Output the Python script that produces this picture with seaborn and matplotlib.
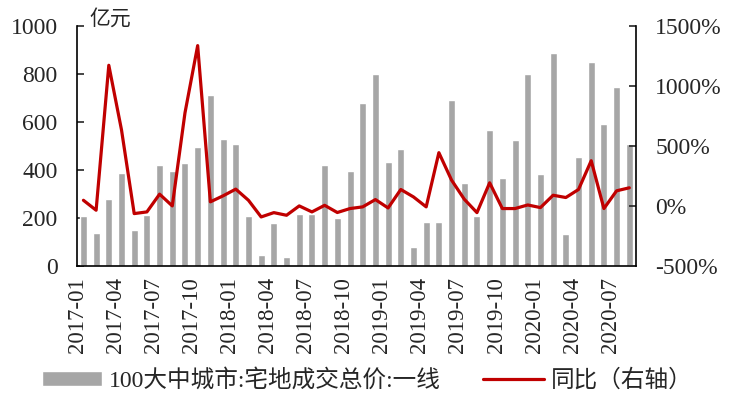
import numpy as np
import pandas as pd
import matplotlib
matplotlib.use("Agg")
import matplotlib.pyplot as plt
import seaborn as sns

# monthly data, 2017-01 .. 2020-08
months = pd.period_range("2017-01", "2020-08", freq="M").strftime("%Y-%m").tolist()

land_total = [210, 137, 280, 386, 151, 213, 422, 397, 427, 497, 712, 529,
              508, 210, 45, 178, 38, 215, 218, 420, 200, 397, 678, 802,
              432, 488, 77, 185, 185, 690, 346, 206, 568, 367, 523, 802,
              381, 886, 132, 456, 851, 593, 746, 509]

yoy = [47, -36, 1173, 634, -64, -50, 98, 0, 776, 1337, 34, 84,
       140, 47, -92, -56, -78, 0, -50, 5, -55, -22, -8, 53,
       -17, 137, 75, -8, 444, 215, 56, -56, 193, -22, -22, 8,
       -14, 89, 70, 137, 377, -22, 126, 151]

tick_labels = months[::3]

bar_name = "100大中城市:宅地成交总价:一线"
line_name = "同比（右轴）"

df = pd.DataFrame({"month": months, "total": land_total, "yoy": yoy})
df["idx"] = np.arange(len(df))

sns.set_style("white")
plt.rcParams['font.family'] = ['Liberation Serif', 'Noto Sans CJK SC', 'DejaVu Sans']

fig, ax = plt.subplots(figsize=(7.34, 4.01), dpi=100)
fig.subplots_adjust(left=0.105, right=0.866, top=0.935, bottom=0.337)

sns.barplot(data=df, x="month", y="total", color="#A6A6A6", saturation=1,
            width=0.55, ax=ax, label=bar_name)
if ax.get_legend() is not None:
    ax.get_legend().remove()
ax.set_xlim(-0.5, len(df) - 0.5)
ax.set_ylim(0, 1000)
ax.set_yticks(range(0, 1001, 200))
ax.set_xticks(np.arange(0, len(df), 3) - 0.5)
ax.set_xticklabels(tick_labels, rotation=90, fontsize=16.5)
ax.tick_params(axis="y", direction="in", labelsize=17, length=5, width=1.2, pad=14)
ax.tick_params(axis="x", direction="out", length=5, width=1.2, pad=3)
ax.set_xlabel("")
ax.set_ylabel("")
ax.text(0.023, 1.03, "亿元", transform=ax.transAxes, fontsize=15,
        va="center", ha="left", family=['Noto Sans CJK SC'])

ax2 = ax.twinx()
sns.lineplot(data=df, x="idx", y="yoy", color="#C00000", lw=2.3, ax=ax2,
             label=line_name, legend=False)
ax2.set_ylim(-500, 1500)
ax2.set_yticks(range(-500, 1501, 500))
ax2.set_yticklabels([f"{v}%" for v in range(-500, 1501, 500)])
ax2.tick_params(axis="y", direction="in", labelsize=17, length=5, width=1.2, pad=14)
ax2.set_ylabel("")
ax2.set_xlim(-0.5, len(df) - 0.5)

for a in (ax, ax2):
    a.spines["top"].set_visible(False)
    for s in ("left", "right", "bottom"):
        a.spines[s].set_color("black")
        a.spines[s].set_linewidth(1.2)
ax.spines["right"].set_visible(False)
ax2.spines["left"].set_visible(False)
ax2.spines["bottom"].set_visible(False)

h1, l1 = ax.get_legend_handles_labels()
h2, l2 = ax2.get_legend_handles_labels()
leg = fig.legend(h1 + h2, l1 + l2, loc="center", ncol=2, frameon=False,
                 bbox_to_anchor=(0.5, 1 - 380 / 401), fontsize=17,
                 handlelength=2.55, handleheight=0.6, columnspacing=1.8,
                 handletextpad=0.3, borderpad=0, borderaxespad=0)

fig.savefig("out.png", dpi=100)
